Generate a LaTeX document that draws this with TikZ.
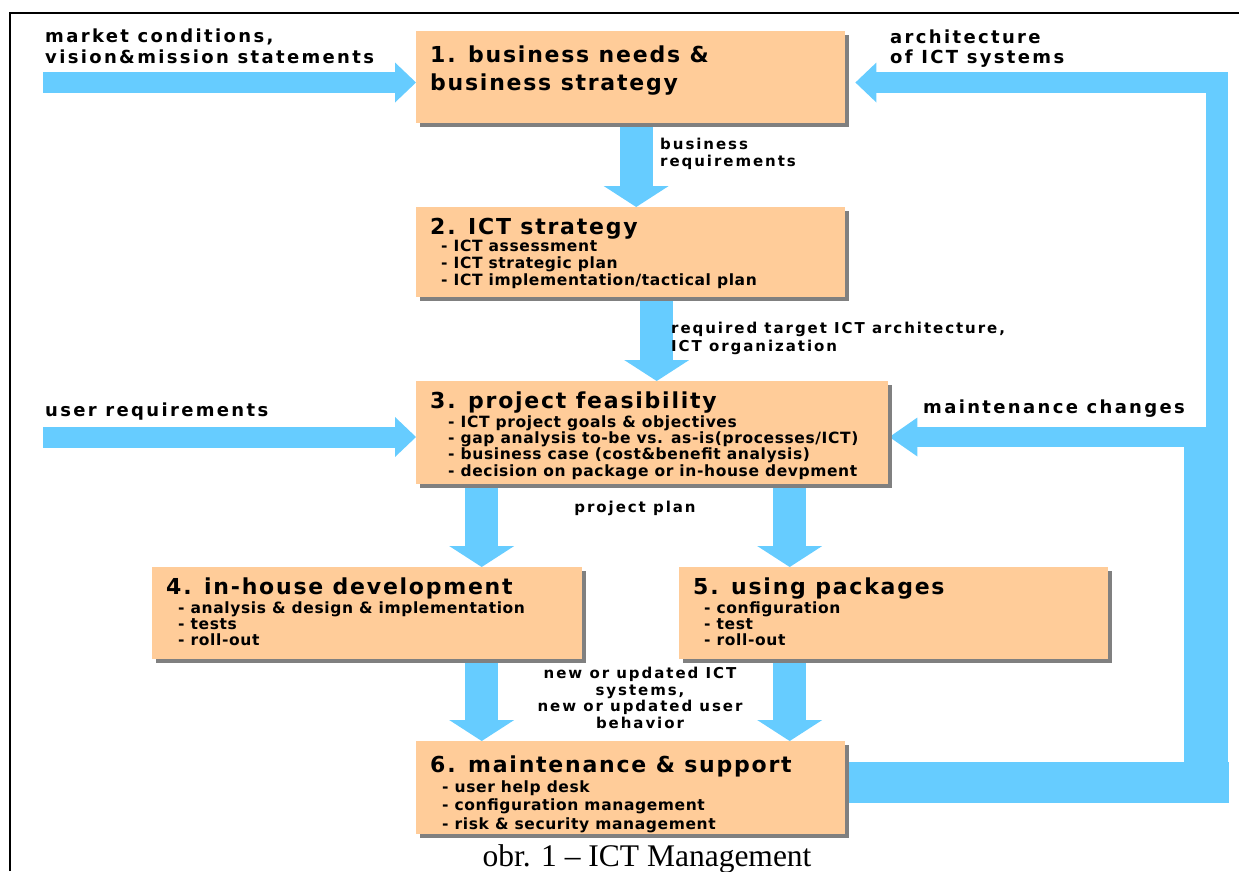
\documentclass[tikz,border=0pt]{standalone}
\usepackage{fontspec}
\setmainfont{Liberation Serif}
\newfontfamily\labfont[LetterSpace=13]{DejaVu Sans}
\newfontfamily\titfont[LetterSpace=8]{DejaVu Sans}
\newfontfamily\itmfont[LetterSpace=4]{DejaVu Sans}
\usetikzlibrary{arrows.meta,shadows}
\definecolor{peach}{HTML}{FFCC99}
\definecolor{sky}{HTML}{66CCFF}
\pgfdeclarelayer{bg}
\pgfsetlayers{bg,main}
\begin{document}
\begin{tikzpicture}[x=1pt,y=-1pt,
  box/.style={rectangle, fill=peach, draw=none, anchor=north west, inner sep=0pt,
    general shadow={fill=black!50, shadow xshift=4pt, shadow yshift=-4pt}},
  lab/.style={anchor=base west, inner sep=0pt, font=\labfont\bfseries\fontsize{18}{21}\selectfont},
  slab/.style={anchor=base west, inner sep=0pt, font=\labfont\bfseries\fontsize{15}{18}\selectfont},
  clab/.style={anchor=base, inner sep=0pt, font=\labfont\bfseries\fontsize{15}{18}\selectfont},
  tit/.style={anchor=base west, inner sep=0pt, font=\titfont\bfseries\fontsize{22}{26}\selectfont},
  itm/.style={anchor=base west, inner sep=0pt, font=\itmfont\bfseries\fontsize{15.5}{18}\selectfont},
  down/.style={draw=sky, line width=33pt, -{Triangle[width=65pt,length=21pt,line width=0pt]}},
  side/.style={draw=sky, line width=21pt, -{Triangle[width=40pt,length=21pt,line width=0pt]}},
  sidem/.style={draw=sky, line width=20pt, -{Triangle[width=39pt,length=28pt,line width=0pt]}},
]
\useasboundingbox (0,0) rectangle (1239,871);
% frame
\draw[line width=2pt] (10,871) -- (10,13) -- (1239,13);

% boxes
\node[box, minimum width=429pt, minimum height=92pt] (b1) at (416,31) {};
\node[box, minimum width=429pt, minimum height=90pt] (b2) at (416,207) {};
\node[box, minimum width=472pt, minimum height=103pt] (b3) at (416,381) {};
\node[box, minimum width=430pt, minimum height=92pt] (b4) at (152,567) {};
\node[box, minimum width=429pt, minimum height=92pt] (b5) at (679,567) {};
\node[box, minimum width=429pt, minimum height=93pt] (b6) at (416,741) {};

% box texts
\node[tit] (t1a) at (430,62) {1. business needs \&};
\node[tit] (t1b) at (430,90) {business strategy};

\node[tit] (t2a) at (430,234) {2. ICT strategy};
\node[itm] (t2b) at (441,251) {- ICT assessment};
\node[itm] (t2c) at (441,268) {- ICT strategic plan};
\node[itm] (t2d) at (441,285) {- ICT implementation/tactical plan};

\node[tit] (t3a) at (430,408) {3. project feasibility};
\node[itm] (t3b) at (448,427) {- ICT project goals \& objectives};
\node[itm] (t3c) at (448,443) {- gap analysis to-be vs. as-is(processes/ICT)};
\node[itm] (t3d) at (448,459) {- business case (cost\&benefit analysis)};
\node[itm] (t3e) at (448,476) {- decision on package or in-house devpment};

\node[tit] (t4a) at (166,594) {4. in-house development};
\node[itm] (t4b) at (178,613) {- analysis \& design \& implementation};
\node[itm] (t4c) at (178,629) {- tests};
\node[itm] (t4d) at (178,645) {- roll-out};

\node[tit] (t5a) at (693,594) {5. using packages};
\node[itm] (t5b) at (704,613) {- configuration};
\node[itm] (t5c) at (704,629) {- test};
\node[itm] (t5d) at (704,645) {- roll-out};

\node[tit] (t6a) at (430,772) {6. maintenance \& support};
\node[itm] (t6b) at (442,792) {- user help desk};
\node[itm] (t6c) at (442,810) {- configuration management};
\node[itm] (t6d) at (442,829) {- risk \& security management};

% labels
\node[lab] (l1a) at (45,42) {market conditions,};
\node[lab] (l1b) at (45,63) {vision\&mission statements};
\node[lab] (l2a) at (890,43) {architecture};
\node[lab] (l2b) at (890,63) {of ICT systems};
\node[slab] (l3a) at (660,149) {business};
\node[slab] (l3b) at (660,166) {requirements};
\node[slab] (l4a) at (671,333) {required target ICT architecture,};
\node[slab] (l4b) at (671,351) {ICT organization};
\node[lab] (l5) at (45,416) {user requirements};
\node[lab] (l6) at (923,413) {maintenance changes};
\node[clab] (l7) at (635,512) {project plan};
\node[clab] (l8a) at (640,678) {new or updated ICT};
\node[clab] (l8b) at (640,695) {systems,};
\node[clab] (l8c) at (640,711) {new or updated user};
\node[clab] (l8d) at (640,728) {behavior};

% caption
\node[anchor=base, inner sep=0pt, font=\fontsize{31.5}{35}\selectfont] (cap) at (647,866) {obr. 1 – ICT Management};

% coordinates for connectors
\coordinate (c12) at ([xshift=5.5pt]b2.north);
\coordinate (c23) at ([xshift=4.5pt]b3.north);
\coordinate (c34) at ([xshift=114.5pt]b4.north);
\coordinate (c35) at ([xshift=-104pt]b5.north);
\coordinate (c46) at ([xshift=-149pt]b6.north);
\coordinate (c56) at ([xshift=159pt]b6.north);
\coordinate (m0) at (43,82.5);
\coordinate (u0) at (43,437);
\coordinate (r1) at (1228,82.5);
\coordinate (r2) at (1228,437);
\path (r1 -| b1.east) ++(10,0) coordinate (r1t);
\path (r2 -| b3.east) ++(1,0) coordinate (r2t);

\begin{pgfonlayer}{bg}
\draw[down] (c12 |- b1.south) -- (c12);
\draw[down] (c23 |- b2.south) -- (c23);
\draw[down] (c34 |- b3.south) -- (c34);
\draw[down] (c35 |- b3.south) -- (c35);
\draw[down] (c46 |- b4.south) -- (c46);
\draw[down] (c56 |- b5.south) -- (c56);
\draw[side] (m0) -- (m0 -| b1.west);
\draw[side] (u0) -- (u0 -| b3.west);
\draw[side] (r1) -- (r1t);
\draw[sidem] (r2) -- (r2t);
% right return bars
\fill[sky] (b6.east |- 0,762) rectangle (1229,803);
\fill[sky] (1184,447) rectangle (1228,762);
\fill[sky] (1206,72) rectangle (1228,447);
\end{pgfonlayer}
\end{tikzpicture}
\end{document}
